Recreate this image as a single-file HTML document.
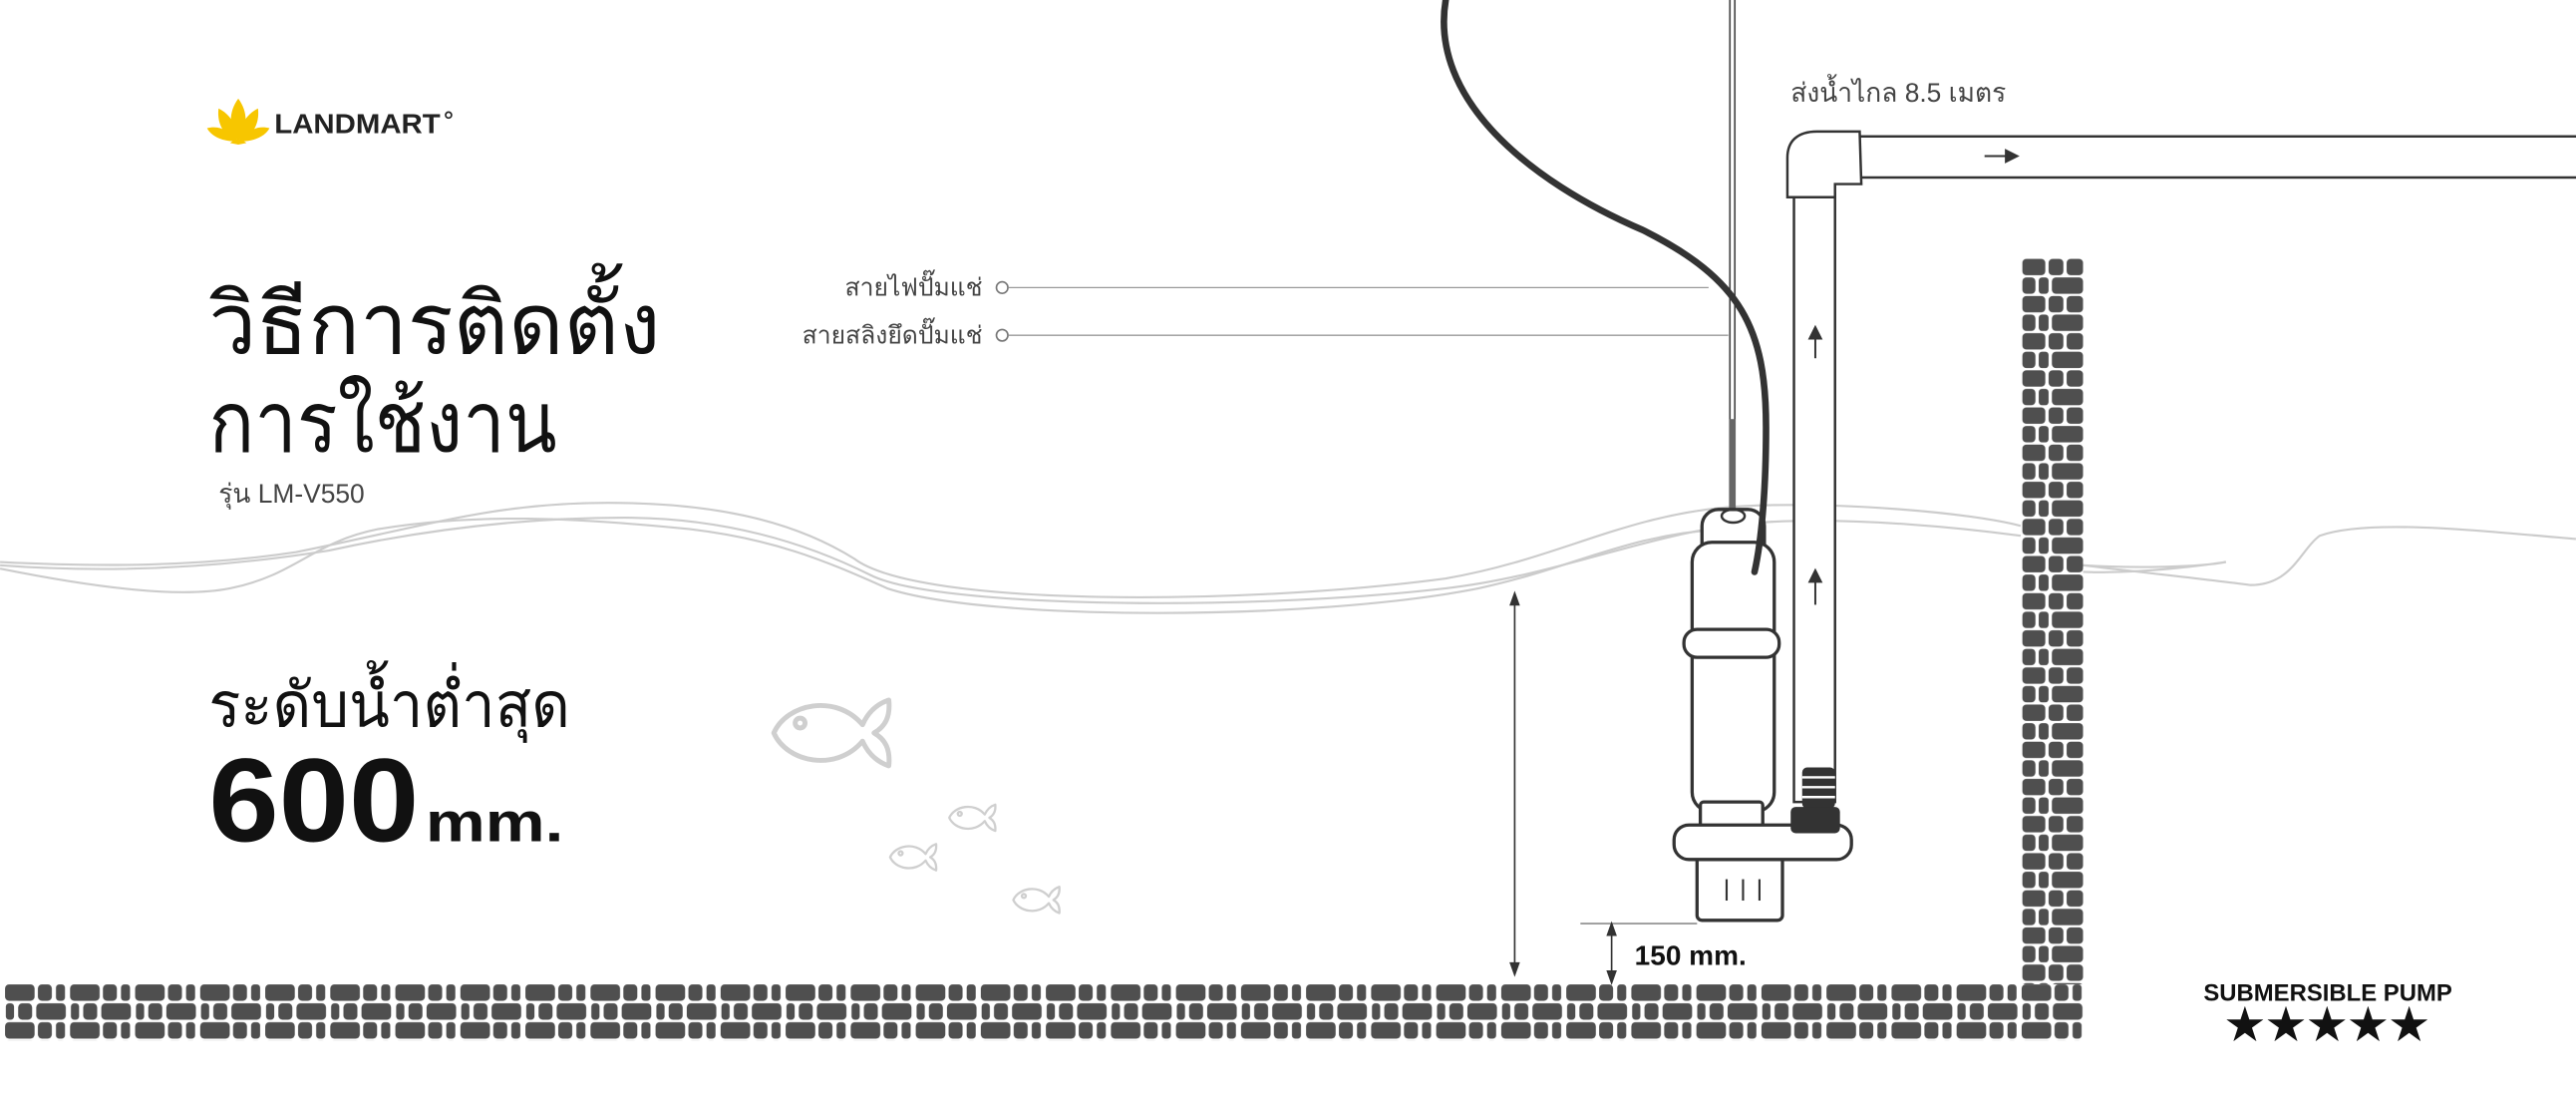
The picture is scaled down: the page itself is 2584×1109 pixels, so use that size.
<!DOCTYPE html>
<html><head><meta charset="utf-8"><style>
html,body{margin:0;padding:0;background:#fff;}
svg{display:block;}
text{font-family:"Liberation Sans","Noto Sans CJK SC",sans-serif;}
</style></head><body>
<svg width="2584" height="1109" viewBox="0 0 1568 673" xmlns="http://www.w3.org/2000/svg">
<defs>
<pattern id="floor" x="3" y="599" width="39.6" height="34" patternUnits="userSpaceOnUse">
<g fill="#4f4f4f">
<rect x="0" y="0" width="18" height="10" rx="2.5"/><rect x="20" y="0" width="8.5" height="10" rx="2.5"/><rect x="31" y="0" width="5.5" height="10" rx="2"/>
<rect x="0.5" y="11.5" width="5" height="10" rx="2"/><rect x="8" y="11.5" width="8.5" height="10" rx="2.5"/><rect x="19" y="11.5" width="18" height="10" rx="2.5"/>
<rect x="0" y="23" width="18" height="10" rx="2.5"/><rect x="20" y="23" width="8.5" height="10" rx="2.5"/><rect x="31" y="23" width="5.5" height="10" rx="2"/>
</g></pattern>
<pattern id="wall" x="1231" y="157" width="40" height="22.6" patternUnits="userSpaceOnUse">
<g fill="#4f4f4f">
<rect x="0" y="0.5" width="14" height="10" rx="2.5"/><rect x="16" y="0.5" width="9" height="10" rx="2.5"/><rect x="27" y="0.5" width="10" height="10" rx="2.5"/>
<rect x="0" y="11.8" width="8" height="10" rx="2.5"/><rect x="10" y="11.8" width="6" height="10" rx="2"/><rect x="18" y="11.8" width="19" height="10" rx="2.5"/>
</g></pattern>
<g id="fish" fill="none" stroke="#cfcfcf" stroke-linejoin="round">
<path d="M2,24 C10,6 40,0 56,19 C60,10 66,6 72,4 C73,14 70,20 63,24 C70,28 73,34 72,44 C66,42 60,38 56,29 C40,48 10,42 2,24 Z"/>
<circle cx="18" cy="18" r="3"/>
</g>
</defs>

<!-- logo -->
<g fill="#f7c600">
<path d="M145,86 C139,78 139,68 145,60 C151,68 151,78 145,86Z"/>
<path d="M144,86 C135,82 132,74 133,66 C141,70 145,78 144,86Z"/>
<path d="M146,86 C155,82 158,74 157,66 C149,70 145,78 146,86Z"/>
<path d="M143,86 C134,86 128,82 126,78 C134,76 140,80 143,86Z"/>
<path d="M147,86 C156,86 162,82 164,78 C156,76 150,80 147,86Z"/>
<path d="M140,87 C144,84 146,84 150,87 L145,88Z"/>
</g>
<text x="167" y="81" font-size="17" font-weight="bold" fill="#222" textLength="101" lengthAdjust="spacingAndGlyphs">LANDMART</text>
<circle cx="273" cy="70" r="1.8" fill="none" stroke="#222" stroke-width="1"/>

<!-- titles -->
<text x="127" y="215" font-size="52" fill="#111" textLength="275" lengthAdjust="spacingAndGlyphs">วิธีการติดตั้ง</text>
<text x="127" y="275" font-size="52" fill="#111" textLength="212" lengthAdjust="spacingAndGlyphs">การใช้งาน</text>
<text x="133" y="306" font-size="16" fill="#444">รุ่น LM-V550</text>
<text x="127" y="442" font-size="38" fill="#111" textLength="220" lengthAdjust="spacingAndGlyphs">ระดับน้ำต่ำสุด</text>
<text x="127" y="512" font-size="72" font-weight="bold" fill="#111" textLength="128" lengthAdjust="spacingAndGlyphs">600</text>
<text x="259" y="512" font-size="34" font-weight="bold" fill="#111" textLength="84" lengthAdjust="spacingAndGlyphs">mm.</text>

<!-- fish -->
<use href="#fish" transform="translate(469,422)" stroke-width="3"/>
<use href="#fish" transform="translate(577,488) scale(0.4)" stroke-width="3.5"/>
<use href="#fish" transform="translate(541,512) scale(0.4)" stroke-width="3.5"/>
<use href="#fish" transform="translate(616,538) scale(0.4)" stroke-width="3.5"/>

<!-- water lines -->
<g fill="none" stroke="#cccccc" stroke-width="1.3">
<path d="M0,342 C60,345 120,345 180,336 C260,320 300,306 370,306 C430,306 480,315 520,340 C560,370 760,368 880,352 C950,340 990,312 1060,308 C1120,305 1200,312 1230,320"/>
<path d="M0,344 C80,350 150,343 200,335 C260,322 320,315 380,315 C440,315 490,330 530,350 C570,370 760,372 880,358 C950,350 1010,322 1070,318 C1130,314 1200,322 1230,326"/>
<path d="M0,346 C60,358 110,364 140,358 C180,350 190,330 230,322 C290,312 350,315 420,322 C470,328 500,340 540,358 C600,378 800,378 900,358 C960,345 990,325 1050,322"/>
<path d="M1268,344 C1300,346 1340,345 1355,342 C1300,350 1268,348 1268,348"/>
<path d="M1268,344 C1300,348 1340,352 1370,356 C1395,356 1400,335 1412,326 C1440,316 1500,322 1568,328"/>
</g>

<!-- labels -->
<text x="598" y="180" font-size="15" fill="#444" text-anchor="end">สายไฟปั๊มแช่</text>
<text x="598" y="209" font-size="15" fill="#444" text-anchor="end">สายสลิงยึดปั๊มแช่</text>
<circle cx="610" cy="175" r="3.5" fill="#fff" stroke="#777" stroke-width="1"/>
<circle cx="610" cy="204" r="3.5" fill="#fff" stroke="#777" stroke-width="1"/>
<line x1="614" y1="175" x2="1040" y2="175" stroke="#999" stroke-width="0.8"/>
<line x1="614" y1="204" x2="1052" y2="204" stroke="#999" stroke-width="0.8"/>

<!-- sling wire -->
<line x1="1053" y1="0" x2="1053" y2="315" stroke="#444" stroke-width="1"/>
<line x1="1056" y1="0" x2="1056" y2="315" stroke="#444" stroke-width="1"/>
<rect x="1052.5" y="255" width="4" height="58" fill="#666"/>

<!-- pump -->
<g fill="#fff" stroke="#333" stroke-width="2">
<rect x="1036" y="310" width="38" height="36" rx="10"/>
<rect x="1030" y="330" width="50" height="164" rx="12"/>
<rect x="1035" y="488" width="38" height="18" rx="2"/>
<rect x="1033" y="518" width="52" height="42" rx="3"/>
<rect x="1019" y="502" width="108" height="21" rx="9"/>
<rect x="1025" y="383" width="58" height="17" rx="8"/>
</g>
<ellipse cx="1055" cy="314" rx="7" ry="4" fill="none" stroke="#333" stroke-width="1.5"/>
<g stroke="#333" stroke-width="1.3"><line x1="1051" y1="535" x2="1051" y2="548"/><line x1="1061" y1="535" x2="1061" y2="548"/><line x1="1071" y1="535" x2="1071" y2="548"/></g>

<!-- black cable -->
<path d="M880,0 C870,60 930,110 1000,140 C1060,170 1075,200 1075,260 C1075,300 1072,330 1068,348" fill="none" stroke="#333" stroke-width="4" stroke-linecap="round"/>

<!-- pipe -->
<g fill="#fff" stroke="#333" stroke-width="1.5">
<rect x="1092" y="118" width="25" height="370"/>
<rect x="1128" y="83" width="445" height="25"/>
<path d="M1088,120 L1088,96 C1088,86 1094,80 1106,80 L1132,80 L1133,112 L1117,112 L1117,120 Z"/>
</g>
<rect x="1097" y="467" width="20" height="25" rx="3" fill="#333"/>
<g stroke="#fff" stroke-width="1.5"><line x1="1097" y1="473" x2="1117" y2="473"/><line x1="1097" y1="479" x2="1117" y2="479"/><line x1="1097" y1="485" x2="1117" y2="485"/></g>
<rect x="1090" y="491" width="30" height="16" rx="3" fill="#333"/>

<!-- flow arrows -->
<g stroke="#333" stroke-width="1.2" fill="#333">
<line x1="1208" y1="95" x2="1224" y2="95"/><path d="M1228,95 L1221,91.5 L1221,98.5Z"/>
<line x1="1105" y1="204" x2="1105" y2="218"/><path d="M1105,199 L1101.5,206 L1108.5,206Z"/>
<line x1="1105" y1="352" x2="1105" y2="368"/><path d="M1105,347 L1101.5,354 L1108.5,354Z"/>
</g>
<text x="1090" y="62" font-size="16" fill="#444">ส่งน้ำไกล 8.5 เมตร</text>

<!-- dimension arrows -->
<g stroke="#333" stroke-width="1" fill="#333">
<line x1="922" y1="364" x2="922" y2="590"/>
<path d="M922,361 L919.5,368 L924.5,368Z"/><path d="M922,593 L919.5,586 L924.5,586Z"/>
<line x1="962" y1="562" x2="1033" y2="562" stroke="#777" stroke-width="0.8"/>
<line x1="981" y1="565" x2="981" y2="595"/>
<path d="M981,562 L978.5,569 L983.5,569Z"/><path d="M981,598 L978.5,591 L983.5,591Z"/>
</g>
<text x="995" y="587" font-size="17" font-weight="bold" fill="#111">150 mm.</text>

<!-- bricks -->
<rect x="3" y="599" width="1265" height="34" fill="url(#floor)"/>
<rect x="1231" y="157" width="37" height="442" fill="url(#wall)"/>

<!-- badge -->
<text x="1417" y="609" font-size="14.5" font-weight="bold" fill="#111" text-anchor="middle">SUBMERSIBLE PUMP</text>
<text x="1417" y="632" font-size="24" fill="#111" text-anchor="middle" letter-spacing="1" font-family="DejaVu Sans, sans-serif">★★★★★</text>
</svg>
</body></html>
